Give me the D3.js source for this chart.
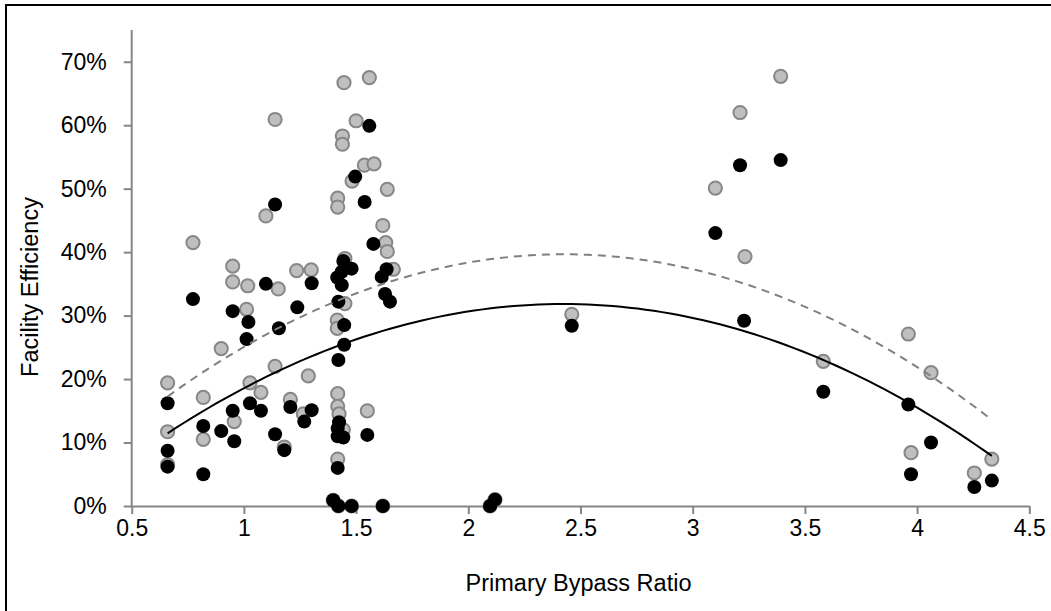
<!DOCTYPE html>
<html lang="en">
<head>
<meta charset="utf-8">
<style>
  body { margin: 0; background: #fff; }
  svg { display: block; font-family: "Liberation Sans", Arial, sans-serif; }
  .tick text { font-size: 23px; fill: #000; }
  .title { font-size: 23.5px; fill: #000; }
</style>
<title></title>
</head>
<body>
<script src="https://d3js.org/d3.v7.min.js"></script>
<script type="text/javascript" charset="utf-8">
// gray series (upper); the last six sit under black points near 0%
var grayX = [0.773, 1.139, 1.098, 1.446, 1.559, 1.500, 1.439, 1.439, 1.537, 1.580,
             1.482, 1.639, 1.418, 1.418, 1.619, 1.632, 1.639, 0.950, 1.235, 1.300,
             1.450, 1.666, 0.950, 1.017, 1.153, 1.012, 1.416, 1.416, 1.450, 0.899,
             0.660, 1.027, 1.139, 1.287, 1.076, 0.819, 1.207, 1.418, 1.418, 1.424,
             1.265, 1.550, 0.957, 0.660, 0.819, 1.443, 1.180, 1.418, 0.660, 2.461,
             3.392, 3.211, 3.101, 3.233, 3.961, 3.582, 4.062, 3.973, 4.333, 4.255,
             1.398, 1.421, 1.480, 1.619, 2.097, 2.119];
var grayY = [0.415, 0.609, 0.457, 0.667, 0.675, 0.607, 0.583, 0.570, 0.537, 0.539,
             0.512, 0.499, 0.485, 0.471, 0.442, 0.415, 0.401, 0.378, 0.371, 0.372,
             0.390, 0.373, 0.353, 0.347, 0.342, 0.310, 0.293, 0.280, 0.319, 0.248,
             0.194, 0.194, 0.220, 0.205, 0.179, 0.171, 0.168, 0.177, 0.157, 0.145,
             0.145, 0.150, 0.133, 0.117, 0.105, 0.120, 0.093, 0.074, 0.065, 0.302,
             0.677, 0.620, 0.501, 0.393, 0.271, 0.228, 0.210, 0.084, 0.074, 0.052,
             0.009, 0.000, 0.000, 0.000, 0.000, 0.010];

// black series (lower)
var blackX = [1.139, 1.559, 1.496, 1.538, 1.577, 1.443, 1.480, 1.436, 1.416, 1.436,
              1.636, 1.614, 1.629, 1.651, 1.421, 1.447, 1.447, 1.421, 0.773, 0.950,
              1.020, 1.098, 1.302, 1.238, 1.012, 1.156, 0.660, 1.027, 0.950, 1.076,
              1.207, 1.302, 1.269, 0.819, 0.899, 0.957, 1.139, 1.550, 1.424, 1.418,
              1.418, 1.443, 1.180, 0.660, 0.660, 1.418, 0.819, 1.398, 1.421, 1.480,
              1.619, 2.461, 2.097, 2.119, 3.101, 3.211, 3.392, 3.229, 3.582, 3.961,
              4.062, 3.973, 4.255, 4.333];
var blackY = [0.475, 0.599, 0.519, 0.479, 0.413, 0.386, 0.374, 0.369, 0.360, 0.348,
              0.373, 0.361, 0.334, 0.322, 0.322, 0.285, 0.254, 0.230, 0.326, 0.307,
              0.290, 0.350, 0.351, 0.313, 0.263, 0.280, 0.162, 0.162, 0.150, 0.150,
              0.156, 0.151, 0.133, 0.126, 0.118, 0.102, 0.113, 0.112, 0.132, 0.122,
              0.110, 0.108, 0.088, 0.087, 0.062, 0.060, 0.050, 0.009, 0.000, 0.000,
              0.000, 0.284, 0.000, 0.010, 0.430, 0.537, 0.545, 0.292, 0.180, 0.160,
              0.100, 0.050, 0.030, 0.040];

var xTicks = [0.5, 1, 1.5, 2, 2.5, 3, 3.5, 4, 4.5];
var yTicks = [0, 0.1, 0.2, 0.3, 0.4, 0.5, 0.6, 0.7];
var xTitle = "Primary Bypass Ratio";
var yTitle = "Facility Efficiency";

var width = 1051, height = 611;
var margin = {left: 131.7, right: 21.7, top: 30, bottom: 105};

var svg = d3.select("body").append("svg")
    .attr("width", width)
    .attr("height", height);

// chart area border (bottom and right fall outside the picture)
svg.append("rect")
    .attr("x", 6).attr("y", 5)
    .attr("width", width + 20).attr("height", height + 20)
    .attr("fill", "#fff")
    .attr("stroke", "#000")
    .attr("stroke-width", 2);

var x = d3.scaleLinear().domain([0.5, 4.5]).range([margin.left, width - margin.right]);
var y = d3.scaleLinear().domain([0, 0.75]).range([height - margin.bottom, margin.top]);

var xAxis = svg.append("g")
    .attr("transform", "translate(0," + y(0) + ")")
    .call(d3.axisBottom(x).tickValues(xTicks).tickFormat(function(d){return String(d);})
          .tickSizeInner(8).tickSizeOuter(0).tickPadding(6));
var yAxis = svg.append("g")
    .attr("transform", "translate(" + x(0.5) + ",0)")
    .call(d3.axisLeft(y).tickValues(yTicks).tickFormat(d3.format(".0%"))
          .tickSizeInner(8).tickSizeOuter(0).tickPadding(17));

svg.selectAll(".domain, .tick line")
    .attr("stroke", "#868686")
    .attr("stroke-width", 2);
// y axis line runs up to the top of the plot area
yAxis.select(".domain").attr("d", "M0," + y(0) + "V" + y(0.75));

svg.append("text")
    .attr("class", "title")
    .attr("x", x(2.5) - 2)
    .attr("y", 591)
    .attr("text-anchor", "middle")
    .text(xTitle);

svg.append("text")
    .attr("class", "title")
    .attr("transform", "translate(38,287) rotate(-90)")
    .attr("text-anchor", "middle")
    .text(yTitle);

function pairs(xs, ys) {
    return xs.map(function(d, i){ return [d, ys[i]]; });
}
var gray = pairs(grayX, grayY);
var black = pairs(blackX, blackY);

svg.append("g").selectAll("circle")
    .data(gray)
    .enter().append("circle")
    .attr("cx", function(d){return x(d[0]);})
    .attr("cy", function(d){return y(d[1]);})
    .attr("r", 6.6)
    .attr("fill", "#bfbfbf")
    .attr("stroke", "#878787")
    .attr("stroke-width", 2);

svg.append("g").selectAll("circle")
    .data(black)
    .enter().append("circle")
    .attr("cx", function(d){return x(d[0]);})
    .attr("cy", function(d){return y(d[1]);})
    .attr("r", 7)
    .attr("fill", "#000");

// second order polynomial trend lines, least squares like the spreadsheet does
function polyFit(pts) {
    var s = [0, 0, 0, 0, 0], t = [0, 0, 0];
    pts.forEach(function(p) {
        var xp = 1;
        for (var k = 0; k < 5; k++) {
            s[k] += xp;
            if (k < 3) t[k] += xp * p[1];
            xp *= p[0];
        }
    });
    var m = [[s[0], s[1], s[2], t[0]], [s[1], s[2], s[3], t[1]], [s[2], s[3], s[4], t[2]]];
    for (var i = 0; i < 3; i++) {
        for (var j = i + 1; j < 3; j++) {
            var f = m[j][i] / m[i][i];
            for (var k = i; k < 4; k++) m[j][k] -= f * m[i][k];
        }
    }
    var c = [0, 0, 0];
    for (var i = 2; i >= 0; i--) {
        var v = m[i][3];
        for (var k = i + 1; k < 3; k++) v -= m[i][k] * c[k];
        c[i] = v / m[i][i];
    }
    return c;
}

function trend(pts) {
    var c = polyFit(pts);
    var lo = d3.min(pts, function(d){return d[0];}), hi = d3.max(pts, function(d){return d[0];});
    return d3.range(0, 101).map(function(i) {
        var xv = lo + (hi - lo) * i / 100;
        return [xv, c[0] + c[1] * xv + c[2] * xv * xv];
    });
}

var line = d3.line()
    .x(function(d){return x(d[0]);})
    .y(function(d){return y(d[1]);});

svg.append("path")
    .datum(trend(gray))
    .attr("d", line)
    .attr("fill", "none")
    .attr("stroke", "#808080")
    .attr("stroke-width", 2)
    .attr("stroke-dasharray", "8,6");

svg.append("path")
    .datum(trend(black))
    .attr("d", line)
    .attr("fill", "none")
    .attr("stroke", "#000")
    .attr("stroke-width", 2);
</script>
</body>
</html>
